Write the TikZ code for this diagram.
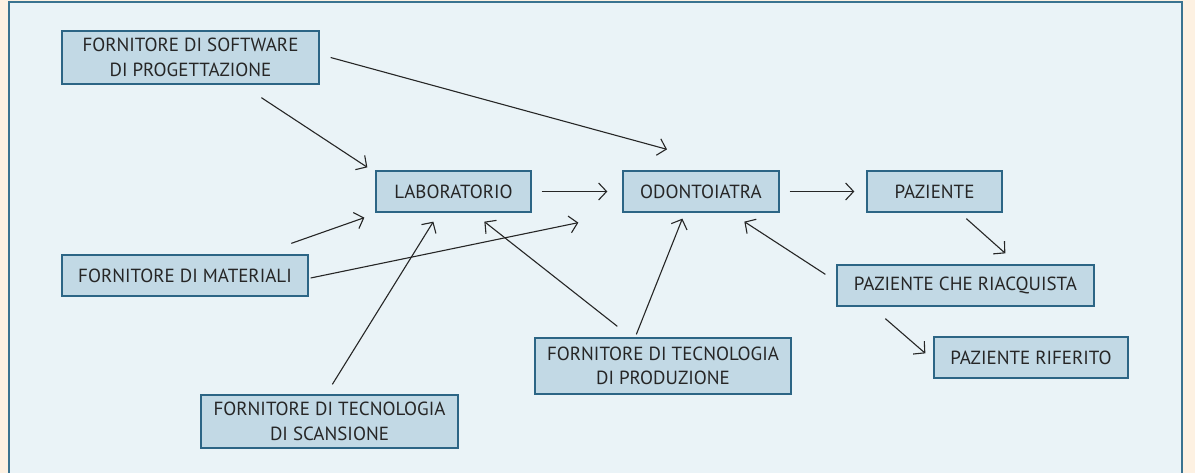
\documentclass[tikz,border=0pt]{standalone}
\usepackage{fontspec}
\setmainfont{PT Sans}
\usetikzlibrary{arrows.meta,calc}
\definecolor{cream}{HTML}{FDF1E2}
\definecolor{panel}{HTML}{EAF3F7}
\definecolor{panelborder}{HTML}{3A7390}
\definecolor{boxfill}{HTML}{C2D9E5}
\definecolor{boxborder}{HTML}{2C6585}
\definecolor{ink}{HTML}{262626}
\tikzset{
  box/.style={draw=boxborder, line width=1.3pt, fill=boxfill, text=ink, align=center,
    inner sep=0pt, font=\fontsize{19}{24.5}\selectfont},
  conn/.style={draw=ink, line width=1.1pt, -{Straight Barb[length=8pt,width=17pt,line width=1.1pt]}}
}
\begin{document}
\begin{tikzpicture}[x=1pt,y=-1pt]
\useasboundingbox (0,0) rectangle (1195,473);
\fill[cream] (0,0) rectangle (1195,473);
\filldraw[fill=panel, draw=panelborder, line width=1.4pt] (9,2) rectangle (1182,490);
\node[box, minimum width=257pt, minimum height=53pt] (fsw) at (190.5,57.5) {FORNITORE DI SOFTWARE\\DI PROGETTAZIONE};
\node[box, minimum width=155pt, minimum height=41pt] (lab) at (453.5,191.5) {LABORATORIO};
\node[box, minimum width=156pt, minimum height=41pt] (odo) at (701,191.5) {ODONTOIATRA};
\node[box, minimum width=135pt, minimum height=41pt] (paz) at (934.5,191.5) {PAZIENTE};
\node[box, minimum width=246pt, minimum height=41pt] (fmat) at (185,275.5) {FORNITORE DI MATERIALI};
\node[box, minimum width=257pt, minimum height=41pt] (pcr) at (965.5,285.5) {PAZIENTE CHE RIACQUISTA};
\node[box, minimum width=256pt, minimum height=56pt] (ftp) at (663,366) {FORNITORE DI TECNOLOGIA\\DI PRODUZIONE};
\node[box, minimum width=194pt, minimum height=41pt] (prif) at (1031,357.5) {PAZIENTE RIFERITO};
\node[box, minimum width=257pt, minimum height=53pt] (fts) at (329.5,421.5) {FORNITORE DI TECNOLOGIA\\DI SCANSIONE};
\draw[conn] ($(fsw.east)+(11,0)$) -- ($(odo.north)+(-34,-21)$);
\draw[conn] ($(fsw.south west)+(200,13)$) -- ($(lab.north west)+(-8,-3)$);
\draw[conn] ($(lab.east)+(10,0)$) -- ($(odo.west)+(-15,0)$);
\draw[conn] ($(odo.east)+(10,0)$) -- ($(paz.west)+(-12,0)$);
\draw[conn] ($(fmat.north west)+(230,-11)$) -- ($(lab.south west)+(-11,5)$);
\draw[conn] ($(fmat.east)+(2,2.5)$) -- ($(odo.south west)+(-44,10)$);
\draw[conn] ($(fts.north west)+(132,-10)$) -- ($(lab.south west)+(58,9)$);
\draw[conn] ($(ftp.north west)+(83,-11)$) -- ($(lab.south west)+(109,9)$);
\draw[conn] ($(ftp.north west)+(102,-3)$) -- ($(odo.south west)+(60,6)$);
\draw[conn] ($(pcr.north west)+(-11,10)$) -- ($(odo.south west)+(122,9)$);
\draw[conn] ($(paz.south west)+(100,6)$) -- ($(pcr.north west)+(169,-11)$);
\draw[conn] ($(pcr.south west)+(49,12)$) -- ($(prif.north west)+(-8,17)$);
\end{tikzpicture}
\end{document}
